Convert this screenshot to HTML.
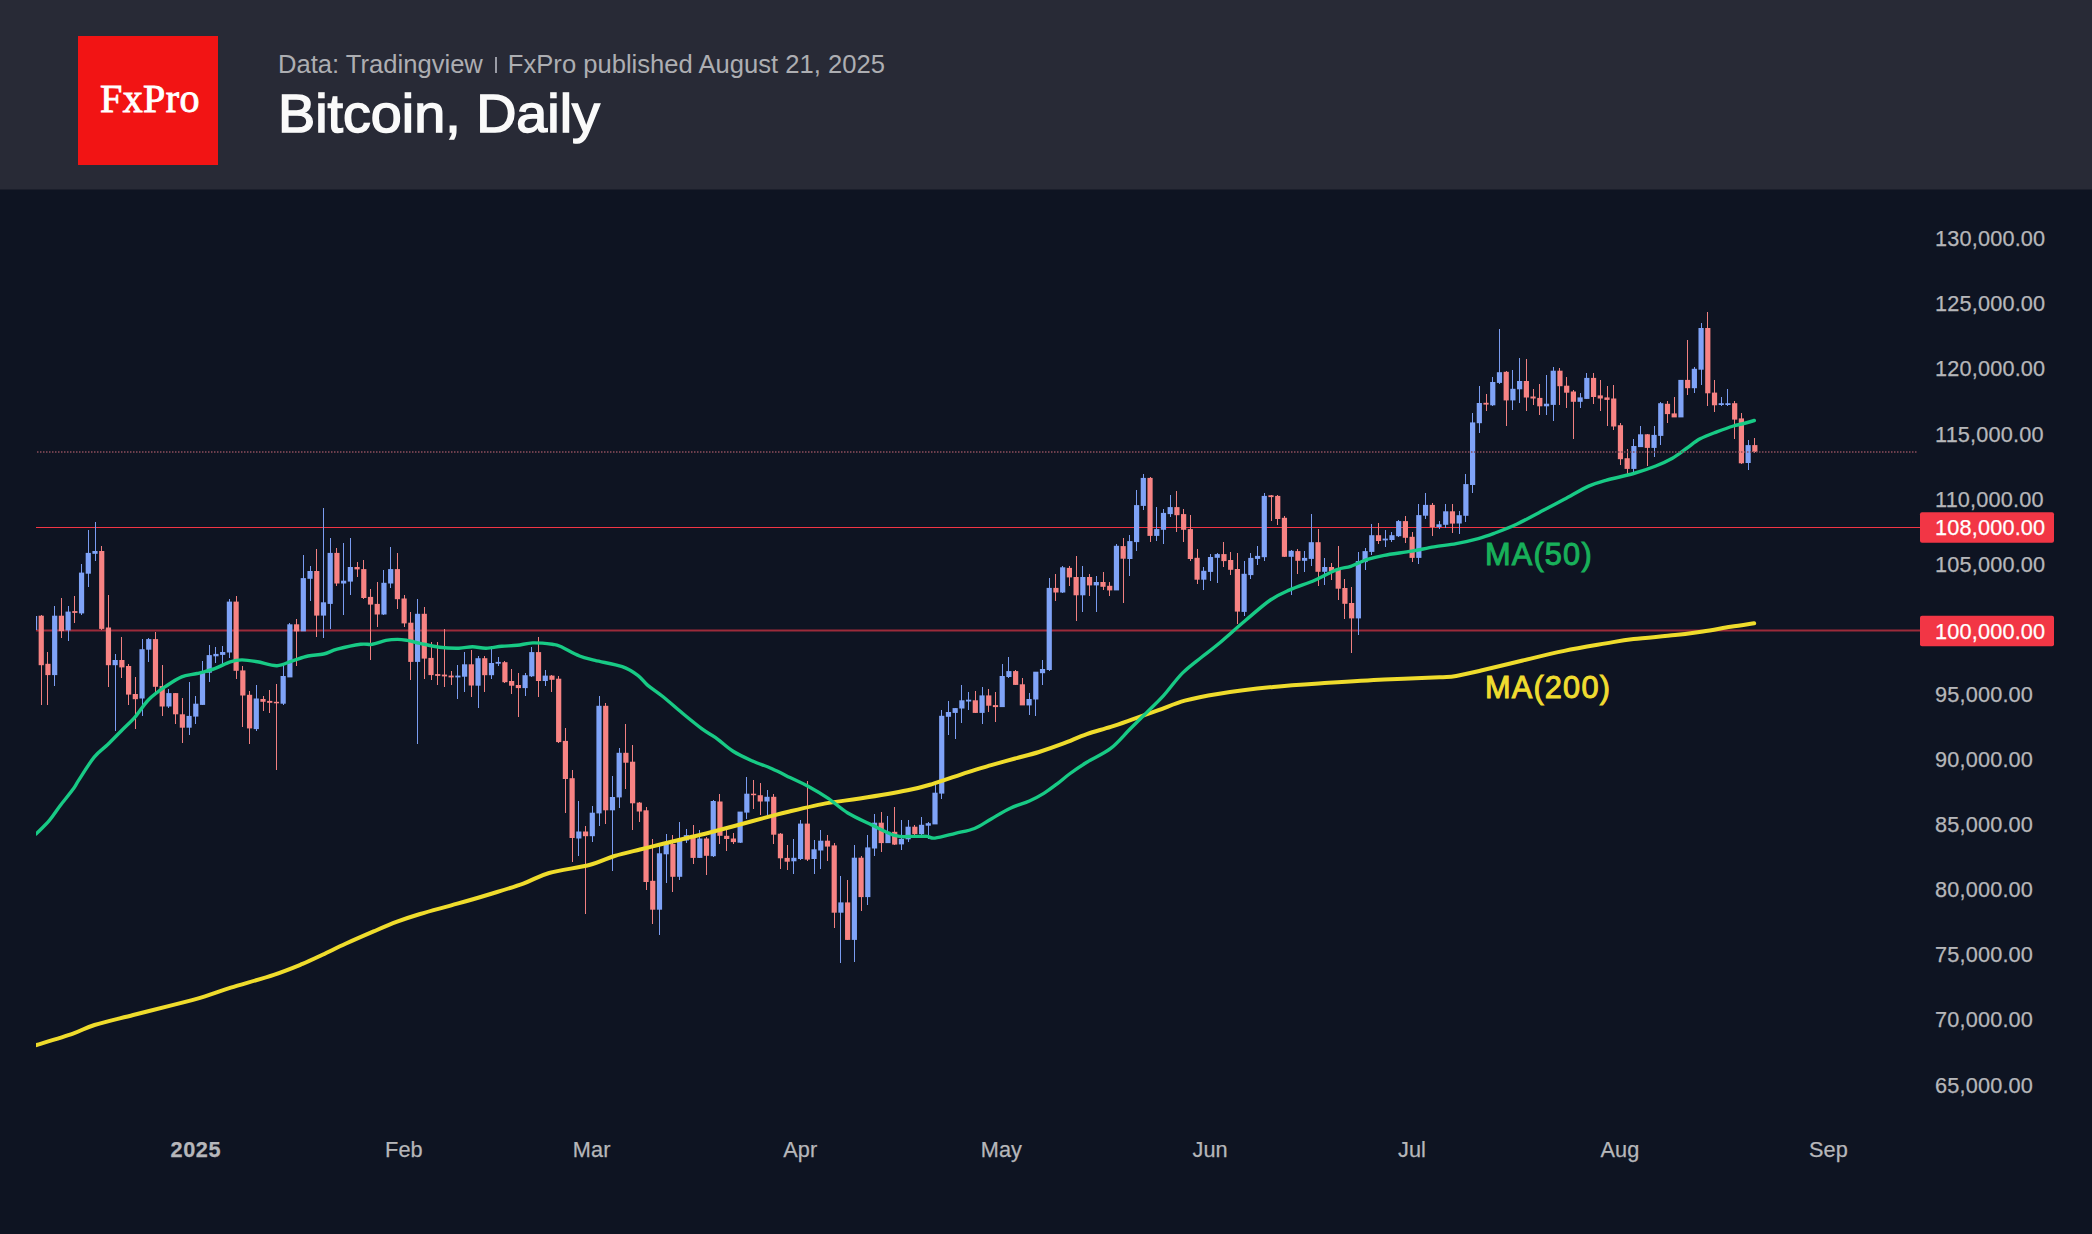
<!DOCTYPE html>
<html><head><meta charset="utf-8"><title>Bitcoin, Daily</title>
<style>
html,body{margin:0;padding:0;}
body{width:2092px;height:1234px;background:#0e1422;position:relative;overflow:hidden;font-family:"Liberation Sans",sans-serif;}
.hdr{position:absolute;left:0;top:0;width:2092px;height:189px;background:#282a36;border-bottom:1px solid #1b1e2b;}
.logo{position:absolute;left:78px;top:36px;width:140px;height:129px;background:#f21414;}
.logo span{position:absolute;left:22px;top:43px;font-family:"Liberation Serif",serif;font-weight:normal;-webkit-text-stroke:0.9px #fff;font-size:40px;line-height:1;color:#fff;letter-spacing:0.4px;white-space:nowrap;}
.sub{position:absolute;left:278px;top:52px;font-size:25.6px;line-height:1;color:#adaeb2;white-space:nowrap;}
.sep{display:inline-block;width:2px;height:16px;background:#9a9ca6;margin:0 11px 0 12px;vertical-align:0px;}
.ttl{position:absolute;left:278px;top:87px;font-size:54.5px;line-height:1;font-weight:normal;-webkit-text-stroke:1.5px #fafafa;color:#fafafa;white-space:nowrap;transform:scaleX(1.022);transform-origin:0 0;}
</style></head><body>
<div class="hdr">
<div class="logo"><span>FxPro</span></div>
<div class="sub">Data: Tradingview<span class="sep"></span>FxPro published August 21, 2025</div>
<div class="ttl">Bitcoin, Daily</div>
</div>
<svg width="2092" height="1234" viewBox="0 0 2092 1234" style="position:absolute;left:0;top:0"><defs><clipPath id="pc"><rect x="36" y="190" width="1884" height="940"/></clipPath></defs><line x1="36" y1="527.5" x2="1920" y2="527.5" stroke="#f23645" stroke-width="1.2"/><line x1="36" y1="630.5" x2="1920" y2="630.5" stroke="#9c2b3a" stroke-width="2"/><g clip-path="url(#pc)"><g fill="#7a9cf0" shape-rendering="crispEdges"><rect x="34.02" y="615.7" width="1" height="15.9"/><rect x="54.18" y="605.5" width="1" height="80.5"/><rect x="67.62" y="605.5" width="1" height="35.2"/><rect x="81.06" y="564.0" width="1" height="50.6"/><rect x="87.78" y="529.5" width="1" height="57.8"/><rect x="94.50" y="522.0" width="1" height="38.8"/><rect x="114.66" y="654.3" width="1" height="77.1"/><rect x="141.54" y="639.1" width="1" height="76.4"/><rect x="148.26" y="637.5" width="1" height="24.4"/><rect x="168.42" y="688.5" width="1" height="19.9"/><rect x="188.58" y="682.1" width="1" height="53.3"/><rect x="195.30" y="696.2" width="1" height="28.2"/><rect x="202.02" y="661.4" width="1" height="43.5"/><rect x="208.74" y="645.0" width="1" height="37.1"/><rect x="215.46" y="647.3" width="1" height="16.0"/><rect x="222.18" y="646.2" width="1" height="18.8"/><rect x="228.90" y="598.5" width="1" height="59.4"/><rect x="255.78" y="684.9" width="1" height="46.5"/><rect x="282.66" y="665.0" width="1" height="39.9"/><rect x="289.38" y="622.7" width="1" height="54.7"/><rect x="302.82" y="554.6" width="1" height="76.8"/><rect x="309.54" y="565.6" width="1" height="35.3"/><rect x="322.98" y="507.6" width="1" height="129.9"/><rect x="329.70" y="538.1" width="1" height="90.9"/><rect x="343.14" y="542.8" width="1" height="71.7"/><rect x="349.86" y="538.1" width="1" height="56.4"/><rect x="383.46" y="569.8" width="1" height="44.7"/><rect x="390.18" y="546.8" width="1" height="40.7"/><rect x="417.06" y="598.5" width="1" height="145.1"/><rect x="457.38" y="665.0" width="1" height="33.5"/><rect x="464.10" y="652.0" width="1" height="39.5"/><rect x="477.54" y="655.9" width="1" height="52.1"/><rect x="490.98" y="645.8" width="1" height="32.9"/><rect x="497.70" y="656.8" width="1" height="9.4"/><rect x="524.58" y="672.8" width="1" height="23.5"/><rect x="531.30" y="647.0" width="1" height="30.0"/><rect x="544.74" y="670.0" width="1" height="16.4"/><rect x="578.34" y="801.0" width="1" height="55.1"/><rect x="591.78" y="805.6" width="1" height="36.0"/><rect x="598.50" y="696.0" width="1" height="129.6"/><rect x="611.94" y="775.8" width="1" height="95.6"/><rect x="618.66" y="748.1" width="1" height="59.9"/><rect x="658.98" y="844.4" width="1" height="90.4"/><rect x="665.70" y="833.8" width="1" height="49.3"/><rect x="679.14" y="822.1" width="1" height="58.0"/><rect x="685.86" y="829.3" width="1" height="13.7"/><rect x="699.30" y="829.5" width="1" height="28.4"/><rect x="712.74" y="800.0" width="1" height="56.8"/><rect x="739.62" y="811.6" width="1" height="31.1"/><rect x="746.34" y="776.8" width="1" height="42.2"/><rect x="766.50" y="790.1" width="1" height="24.6"/><rect x="793.38" y="839.1" width="1" height="35.1"/><rect x="800.10" y="819.7" width="1" height="39.9"/><rect x="813.54" y="839.6" width="1" height="34.6"/><rect x="820.26" y="829.8" width="1" height="39.5"/><rect x="840.42" y="876.1" width="1" height="86.6"/><rect x="853.86" y="845.4" width="1" height="116.3"/><rect x="867.30" y="835.3" width="1" height="69.6"/><rect x="874.02" y="814.3" width="1" height="41.4"/><rect x="887.46" y="815.5" width="1" height="27.6"/><rect x="900.90" y="819.6" width="1" height="30.7"/><rect x="907.62" y="819.9" width="1" height="22.3"/><rect x="921.06" y="817.4" width="1" height="17.1"/><rect x="927.78" y="821.8" width="1" height="17.5"/><rect x="934.50" y="781.0" width="1" height="43.4"/><rect x="941.22" y="710.0" width="1" height="88.5"/><rect x="947.94" y="701.3" width="1" height="33.6"/><rect x="954.66" y="707.7" width="1" height="31.1"/><rect x="961.38" y="685.1" width="1" height="37.6"/><rect x="968.10" y="692.1" width="1" height="17.5"/><rect x="981.54" y="687.1" width="1" height="36.5"/><rect x="1001.70" y="664.3" width="1" height="42.8"/><rect x="1008.42" y="657.1" width="1" height="20.8"/><rect x="1028.58" y="692.7" width="1" height="21.9"/><rect x="1035.30" y="671.7" width="1" height="44.6"/><rect x="1042.02" y="659.9" width="1" height="24.8"/><rect x="1048.74" y="577.8" width="1" height="93.2"/><rect x="1062.18" y="565.8" width="1" height="27.4"/><rect x="1082.34" y="565.8" width="1" height="45.7"/><rect x="1095.78" y="575.7" width="1" height="36.4"/><rect x="1115.94" y="544.1" width="1" height="46.3"/><rect x="1129.38" y="535.1" width="1" height="40.6"/><rect x="1136.10" y="490.2" width="1" height="60.7"/><rect x="1142.82" y="474.3" width="1" height="35.7"/><rect x="1156.26" y="507.1" width="1" height="34.0"/><rect x="1162.98" y="509.2" width="1" height="34.5"/><rect x="1169.70" y="495.1" width="1" height="21.7"/><rect x="1203.30" y="566.7" width="1" height="23.1"/><rect x="1210.02" y="553.8" width="1" height="27.2"/><rect x="1216.74" y="553.0" width="1" height="30.0"/><rect x="1243.62" y="561.1" width="1" height="54.5"/><rect x="1250.34" y="553.0" width="1" height="25.6"/><rect x="1257.06" y="545.9" width="1" height="19.0"/><rect x="1263.78" y="492.7" width="1" height="68.1"/><rect x="1290.66" y="549.8" width="1" height="45.1"/><rect x="1304.10" y="550.8" width="1" height="21.0"/><rect x="1310.82" y="514.1" width="1" height="51.6"/><rect x="1324.26" y="557.9" width="1" height="26.9"/><rect x="1357.86" y="551.9" width="1" height="82.7"/><rect x="1364.58" y="547.8" width="1" height="21.9"/><rect x="1371.30" y="523.8" width="1" height="30.8"/><rect x="1384.74" y="530.0" width="1" height="17.0"/><rect x="1391.46" y="531.9" width="1" height="9.8"/><rect x="1398.18" y="520.3" width="1" height="16.5"/><rect x="1418.34" y="504.1" width="1" height="59.6"/><rect x="1425.06" y="493.0" width="1" height="25.6"/><rect x="1438.50" y="521.1" width="1" height="7.6"/><rect x="1445.22" y="504.1" width="1" height="24.3"/><rect x="1458.66" y="511.3" width="1" height="22.3"/><rect x="1465.38" y="474.3" width="1" height="47.3"/><rect x="1472.10" y="412.7" width="1" height="80.1"/><rect x="1478.82" y="385.8" width="1" height="46.7"/><rect x="1492.26" y="377.1" width="1" height="29.2"/><rect x="1498.98" y="329.1" width="1" height="54.4"/><rect x="1512.42" y="369.9" width="1" height="39.7"/><rect x="1519.14" y="357.6" width="1" height="45.4"/><rect x="1546.02" y="375.1" width="1" height="40.3"/><rect x="1552.74" y="366.8" width="1" height="53.7"/><rect x="1579.62" y="392.7" width="1" height="15.0"/><rect x="1586.34" y="372.7" width="1" height="26.2"/><rect x="1633.38" y="439.4" width="1" height="35.4"/><rect x="1640.10" y="426.1" width="1" height="21.0"/><rect x="1653.54" y="426.1" width="1" height="30.8"/><rect x="1660.26" y="401.8" width="1" height="43.4"/><rect x="1680.42" y="379.9" width="1" height="37.5"/><rect x="1693.86" y="367.4" width="1" height="25.9"/><rect x="1700.58" y="323.0" width="1" height="61.6"/><rect x="1720.74" y="396.5" width="1" height="9.9"/><rect x="1727.46" y="388.7" width="1" height="17.7"/><rect x="1747.62" y="440.3" width="1" height="29.6"/></g><g fill="#f08080" shape-rendering="crispEdges"><rect x="40.74" y="614.6" width="1" height="90.7"/><rect x="47.46" y="652.0" width="1" height="53.3"/><rect x="60.90" y="597.5" width="1" height="40.9"/><rect x="74.34" y="596.4" width="1" height="26.1"/><rect x="101.22" y="546.0" width="1" height="84.4"/><rect x="107.94" y="594.8" width="1" height="92.4"/><rect x="121.38" y="637.2" width="1" height="40.8"/><rect x="128.10" y="663.8" width="1" height="41.5"/><rect x="134.82" y="677.0" width="1" height="51.7"/><rect x="154.98" y="632.0" width="1" height="59.5"/><rect x="161.70" y="665.0" width="1" height="50.5"/><rect x="175.14" y="693.1" width="1" height="30.6"/><rect x="181.86" y="697.8" width="1" height="44.7"/><rect x="235.62" y="595.7" width="1" height="83.3"/><rect x="242.34" y="666.1" width="1" height="61.1"/><rect x="249.06" y="690.8" width="1" height="52.8"/><rect x="262.50" y="696.2" width="1" height="14.6"/><rect x="269.22" y="689.6" width="1" height="23.0"/><rect x="275.94" y="683.8" width="1" height="85.7"/><rect x="296.10" y="619.2" width="1" height="46.5"/><rect x="316.26" y="548.7" width="1" height="88.1"/><rect x="336.42" y="547.5" width="1" height="38.8"/><rect x="356.58" y="561.6" width="1" height="15.8"/><rect x="363.30" y="560.0" width="1" height="38.5"/><rect x="370.02" y="589.1" width="1" height="70.5"/><rect x="376.74" y="582.1" width="1" height="45.3"/><rect x="396.90" y="552.9" width="1" height="56.4"/><rect x="403.62" y="595.2" width="1" height="32.2"/><rect x="410.34" y="611.7" width="1" height="68.1"/><rect x="423.78" y="607.4" width="1" height="71.7"/><rect x="430.50" y="641.5" width="1" height="38.3"/><rect x="437.22" y="642.2" width="1" height="43.2"/><rect x="443.94" y="628.6" width="1" height="58.2"/><rect x="450.66" y="671.3" width="1" height="14.1"/><rect x="470.82" y="650.2" width="1" height="46.5"/><rect x="484.26" y="655.9" width="1" height="36.2"/><rect x="504.42" y="660.6" width="1" height="22.1"/><rect x="511.14" y="669.3" width="1" height="24.2"/><rect x="517.86" y="672.8" width="1" height="44.2"/><rect x="538.02" y="637.1" width="1" height="59.7"/><rect x="551.46" y="674.7" width="1" height="17.4"/><rect x="558.18" y="676.3" width="1" height="66.5"/><rect x="564.90" y="728.0" width="1" height="84.5"/><rect x="571.62" y="769.6" width="1" height="92.4"/><rect x="585.06" y="825.6" width="1" height="88.1"/><rect x="605.22" y="703.0" width="1" height="120.7"/><rect x="625.38" y="724.2" width="1" height="64.3"/><rect x="632.10" y="745.3" width="1" height="84.5"/><rect x="638.82" y="802.1" width="1" height="20.0"/><rect x="645.54" y="806.8" width="1" height="82.7"/><rect x="652.26" y="838.5" width="1" height="85.3"/><rect x="672.42" y="834.5" width="1" height="57.3"/><rect x="692.58" y="824.6" width="1" height="39.6"/><rect x="706.02" y="837.3" width="1" height="37.9"/><rect x="719.46" y="793.7" width="1" height="49.9"/><rect x="726.18" y="829.5" width="1" height="21.0"/><rect x="732.90" y="832.6" width="1" height="11.0"/><rect x="753.06" y="779.6" width="1" height="29.4"/><rect x="759.78" y="782.5" width="1" height="32.2"/><rect x="773.22" y="793.7" width="1" height="50.5"/><rect x="779.94" y="832.6" width="1" height="36.2"/><rect x="786.66" y="845.3" width="1" height="24.8"/><rect x="806.82" y="780.8" width="1" height="79.8"/><rect x="826.98" y="835.3" width="1" height="25.3"/><rect x="833.70" y="842.7" width="1" height="85.0"/><rect x="847.14" y="880.0" width="1" height="59.9"/><rect x="860.58" y="855.7" width="1" height="55.4"/><rect x="880.74" y="811.6" width="1" height="40.2"/><rect x="894.18" y="806.5" width="1" height="38.1"/><rect x="914.34" y="825.1" width="1" height="9.4"/><rect x="974.82" y="691.0" width="1" height="21.9"/><rect x="988.26" y="689.0" width="1" height="22.6"/><rect x="994.98" y="692.1" width="1" height="29.6"/><rect x="1015.14" y="669.8" width="1" height="15.4"/><rect x="1021.86" y="678.0" width="1" height="27.4"/><rect x="1055.46" y="573.6" width="1" height="26.9"/><rect x="1068.90" y="565.8" width="1" height="20.4"/><rect x="1075.62" y="555.9" width="1" height="64.6"/><rect x="1089.06" y="573.6" width="1" height="22.7"/><rect x="1102.50" y="572.1" width="1" height="17.5"/><rect x="1109.22" y="581.6" width="1" height="14.7"/><rect x="1122.66" y="538.1" width="1" height="64.4"/><rect x="1149.54" y="477.2" width="1" height="64.9"/><rect x="1176.42" y="491.3" width="1" height="40.6"/><rect x="1183.14" y="509.2" width="1" height="32.9"/><rect x="1189.86" y="514.9" width="1" height="46.2"/><rect x="1196.58" y="548.9" width="1" height="34.9"/><rect x="1223.46" y="542.1" width="1" height="25.0"/><rect x="1230.18" y="551.9" width="1" height="23.1"/><rect x="1236.90" y="553.0" width="1" height="71.2"/><rect x="1270.50" y="495.1" width="1" height="26.0"/><rect x="1277.22" y="495.1" width="1" height="30.0"/><rect x="1283.94" y="516.2" width="1" height="40.6"/><rect x="1297.38" y="549.1" width="1" height="24.7"/><rect x="1317.54" y="529.2" width="1" height="56.7"/><rect x="1330.98" y="562.8" width="1" height="17.2"/><rect x="1337.70" y="545.9" width="1" height="53.8"/><rect x="1344.42" y="579.0" width="1" height="39.9"/><rect x="1351.14" y="586.7" width="1" height="66.5"/><rect x="1378.02" y="522.7" width="1" height="21.1"/><rect x="1404.90" y="516.2" width="1" height="26.8"/><rect x="1411.62" y="531.9" width="1" height="30.2"/><rect x="1431.78" y="503.2" width="1" height="32.5"/><rect x="1451.94" y="504.1" width="1" height="28.4"/><rect x="1485.54" y="393.6" width="1" height="17.1"/><rect x="1505.70" y="371.3" width="1" height="54.4"/><rect x="1525.86" y="359.0" width="1" height="51.7"/><rect x="1532.58" y="389.3" width="1" height="15.6"/><rect x="1539.30" y="384.3" width="1" height="31.1"/><rect x="1559.46" y="368.3" width="1" height="36.6"/><rect x="1566.18" y="376.5" width="1" height="31.2"/><rect x="1572.90" y="389.6" width="1" height="49.2"/><rect x="1593.06" y="372.7" width="1" height="31.1"/><rect x="1599.78" y="379.8" width="1" height="30.8"/><rect x="1606.50" y="386.3" width="1" height="39.4"/><rect x="1613.22" y="384.9" width="1" height="44.7"/><rect x="1619.94" y="422.6" width="1" height="42.4"/><rect x="1626.66" y="448.5" width="1" height="26.3"/><rect x="1646.82" y="434.3" width="1" height="31.7"/><rect x="1666.98" y="400.5" width="1" height="22.7"/><rect x="1673.70" y="397.4" width="1" height="20.0"/><rect x="1687.14" y="340.1" width="1" height="54.7"/><rect x="1707.30" y="312.0" width="1" height="94.4"/><rect x="1714.02" y="379.9" width="1" height="31.6"/><rect x="1734.18" y="401.3" width="1" height="38.0"/><rect x="1740.90" y="412.6" width="1" height="51.4"/><rect x="1754.34" y="437.8" width="1" height="15.3"/></g><g fill="#7fa3f7"><rect x="31.92" y="616.0" width="5.2" height="14.0"/><rect x="52.08" y="615.7" width="5.2" height="59.4"/><rect x="65.52" y="611.6" width="5.2" height="18.8"/><rect x="78.96" y="572.6" width="5.2" height="40.8"/><rect x="85.68" y="552.9" width="5.2" height="20.8"/><rect x="92.40" y="551.0" width="5.2" height="2.8"/><rect x="112.56" y="660.0" width="5.2" height="5.2"/><rect x="139.44" y="649.2" width="5.2" height="49.3"/><rect x="146.16" y="639.1" width="5.2" height="10.6"/><rect x="166.32" y="693.1" width="5.2" height="13.4"/><rect x="186.48" y="715.9" width="5.2" height="11.8"/><rect x="193.20" y="703.7" width="5.2" height="12.9"/><rect x="199.92" y="672.0" width="5.2" height="32.9"/><rect x="206.64" y="655.1" width="5.2" height="17.6"/><rect x="213.36" y="653.9" width="5.2" height="2.4"/><rect x="220.08" y="652.0" width="5.2" height="2.9"/><rect x="226.80" y="601.6" width="5.2" height="50.9"/><rect x="253.68" y="698.5" width="5.2" height="30.6"/><rect x="280.56" y="676.0" width="5.2" height="27.7"/><rect x="287.28" y="624.3" width="5.2" height="53.1"/><rect x="300.72" y="578.1" width="5.2" height="53.3"/><rect x="307.44" y="571.0" width="5.2" height="7.8"/><rect x="320.88" y="602.3" width="5.2" height="13.3"/><rect x="327.60" y="552.9" width="5.2" height="51.0"/><rect x="341.04" y="580.7" width="5.2" height="2.8"/><rect x="347.76" y="567.0" width="5.2" height="14.6"/><rect x="381.36" y="582.8" width="5.2" height="31.7"/><rect x="388.08" y="569.1" width="5.2" height="14.4"/><rect x="414.96" y="613.8" width="5.2" height="48.1"/><rect x="455.28" y="675.6" width="5.2" height="1.8"/><rect x="462.00" y="664.3" width="5.2" height="12.4"/><rect x="475.44" y="658.2" width="5.2" height="27.5"/><rect x="488.88" y="663.0" width="5.2" height="12.2"/><rect x="495.60" y="661.9" width="5.2" height="1.8"/><rect x="522.48" y="675.2" width="5.2" height="12.9"/><rect x="529.20" y="652.1" width="5.2" height="24.2"/><rect x="542.64" y="675.6" width="5.2" height="5.4"/><rect x="576.24" y="831.5" width="5.2" height="7.0"/><rect x="589.68" y="812.7" width="5.2" height="23.5"/><rect x="596.40" y="705.8" width="5.2" height="107.6"/><rect x="609.84" y="797.0" width="5.2" height="13.3"/><rect x="616.56" y="752.8" width="5.2" height="44.6"/><rect x="656.88" y="853.3" width="5.2" height="56.4"/><rect x="663.60" y="843.9" width="5.2" height="10.4"/><rect x="677.04" y="840.2" width="5.2" height="36.6"/><rect x="683.76" y="835.1" width="5.2" height="5.4"/><rect x="697.20" y="838.5" width="5.2" height="19.4"/><rect x="710.64" y="801.0" width="5.2" height="55.2"/><rect x="737.52" y="811.6" width="5.2" height="31.1"/><rect x="744.24" y="793.7" width="5.2" height="18.9"/><rect x="764.40" y="796.8" width="5.2" height="4.7"/><rect x="791.28" y="857.8" width="5.2" height="3.5"/><rect x="798.00" y="823.6" width="5.2" height="35.4"/><rect x="811.44" y="849.3" width="5.2" height="9.7"/><rect x="818.16" y="840.7" width="5.2" height="9.8"/><rect x="838.32" y="902.4" width="5.2" height="10.3"/><rect x="851.76" y="857.7" width="5.2" height="82.2"/><rect x="865.20" y="847.4" width="5.2" height="49.7"/><rect x="871.92" y="822.7" width="5.2" height="25.8"/><rect x="885.36" y="831.8" width="5.2" height="11.3"/><rect x="898.80" y="838.8" width="5.2" height="5.6"/><rect x="905.52" y="826.7" width="5.2" height="12.6"/><rect x="918.96" y="824.8" width="5.2" height="9.3"/><rect x="925.68" y="823.2" width="5.2" height="2.5"/><rect x="932.40" y="792.7" width="5.2" height="31.7"/><rect x="939.12" y="715.8" width="5.2" height="77.8"/><rect x="945.84" y="712.0" width="5.2" height="4.8"/><rect x="952.56" y="708.1" width="5.2" height="4.8"/><rect x="959.28" y="700.3" width="5.2" height="8.2"/><rect x="966.00" y="699.7" width="5.2" height="1.8"/><rect x="979.44" y="695.4" width="5.2" height="17.5"/><rect x="999.60" y="676.0" width="5.2" height="31.1"/><rect x="1006.32" y="671.1" width="5.2" height="5.9"/><rect x="1026.48" y="699.0" width="5.2" height="6.4"/><rect x="1033.20" y="671.7" width="5.2" height="27.8"/><rect x="1039.92" y="669.0" width="5.2" height="4.2"/><rect x="1046.64" y="587.9" width="5.2" height="82.1"/><rect x="1060.08" y="567.3" width="5.2" height="25.2"/><rect x="1080.24" y="577.0" width="5.2" height="18.3"/><rect x="1093.68" y="582.0" width="5.2" height="3.4"/><rect x="1113.84" y="545.8" width="5.2" height="44.6"/><rect x="1127.28" y="541.1" width="5.2" height="17.9"/><rect x="1134.00" y="505.1" width="5.2" height="37.0"/><rect x="1140.72" y="477.9" width="5.2" height="28.0"/><rect x="1154.16" y="529.1" width="5.2" height="6.8"/><rect x="1160.88" y="512.9" width="5.2" height="16.9"/><rect x="1167.60" y="507.1" width="5.2" height="7.0"/><rect x="1201.20" y="570.8" width="5.2" height="8.9"/><rect x="1207.92" y="557.0" width="5.2" height="14.9"/><rect x="1214.64" y="554.1" width="5.2" height="3.7"/><rect x="1241.52" y="573.8" width="5.2" height="38.1"/><rect x="1248.24" y="557.9" width="5.2" height="17.2"/><rect x="1254.96" y="555.9" width="5.2" height="3.0"/><rect x="1261.68" y="495.9" width="5.2" height="61.3"/><rect x="1288.56" y="550.8" width="5.2" height="6.0"/><rect x="1302.00" y="557.9" width="5.2" height="2.9"/><rect x="1308.72" y="542.2" width="5.2" height="16.7"/><rect x="1322.16" y="567.0" width="5.2" height="4.8"/><rect x="1355.76" y="561.1" width="5.2" height="57.3"/><rect x="1362.48" y="551.1" width="5.2" height="11.0"/><rect x="1369.20" y="535.2" width="5.2" height="16.7"/><rect x="1382.64" y="538.6" width="5.2" height="1.8"/><rect x="1389.36" y="535.2" width="5.2" height="4.8"/><rect x="1396.08" y="521.1" width="5.2" height="15.1"/><rect x="1416.24" y="515.1" width="5.2" height="42.8"/><rect x="1422.96" y="504.9" width="5.2" height="10.8"/><rect x="1436.40" y="524.3" width="5.2" height="2.8"/><rect x="1443.12" y="511.3" width="5.2" height="13.5"/><rect x="1456.56" y="515.2" width="5.2" height="8.3"/><rect x="1463.28" y="484.1" width="5.2" height="31.7"/><rect x="1470.00" y="422.4" width="5.2" height="62.6"/><rect x="1476.72" y="403.0" width="5.2" height="20.2"/><rect x="1490.16" y="382.0" width="5.2" height="23.3"/><rect x="1496.88" y="372.2" width="5.2" height="10.7"/><rect x="1510.32" y="388.8" width="5.2" height="11.6"/><rect x="1517.04" y="381.0" width="5.2" height="8.3"/><rect x="1543.92" y="403.7" width="5.2" height="2.6"/><rect x="1550.64" y="370.7" width="5.2" height="34.2"/><rect x="1577.52" y="397.4" width="5.2" height="4.4"/><rect x="1584.24" y="377.9" width="5.2" height="21.0"/><rect x="1631.28" y="446.0" width="5.2" height="22.9"/><rect x="1638.00" y="434.3" width="5.2" height="12.8"/><rect x="1651.44" y="434.9" width="5.2" height="13.0"/><rect x="1658.16" y="403.2" width="5.2" height="32.7"/><rect x="1678.32" y="379.9" width="5.2" height="37.5"/><rect x="1691.76" y="368.8" width="5.2" height="19.4"/><rect x="1698.48" y="328.0" width="5.2" height="41.7"/><rect x="1718.64" y="403.2" width="5.2" height="1.8"/><rect x="1725.36" y="403.2" width="5.2" height="1.8"/><rect x="1745.52" y="445.1" width="5.2" height="17.9"/></g><g fill="#f78383"><rect x="38.64" y="615.7" width="5.2" height="49.5"/><rect x="45.36" y="663.8" width="5.2" height="11.3"/><rect x="58.80" y="615.7" width="5.2" height="15.4"/><rect x="72.24" y="611.1" width="5.2" height="1.8"/><rect x="99.12" y="551.0" width="5.2" height="77.9"/><rect x="105.84" y="627.5" width="5.2" height="37.7"/><rect x="119.28" y="660.0" width="5.2" height="7.4"/><rect x="126.00" y="666.0" width="5.2" height="28.6"/><rect x="132.72" y="694.0" width="5.2" height="5.2"/><rect x="152.88" y="639.1" width="5.2" height="47.7"/><rect x="159.60" y="686.1" width="5.2" height="20.4"/><rect x="173.04" y="693.1" width="5.2" height="21.2"/><rect x="179.76" y="714.3" width="5.2" height="13.4"/><rect x="233.52" y="601.6" width="5.2" height="69.2"/><rect x="240.24" y="670.4" width="5.2" height="25.1"/><rect x="246.96" y="694.8" width="5.2" height="33.6"/><rect x="260.40" y="699.0" width="5.2" height="2.8"/><rect x="267.12" y="700.9" width="5.2" height="1.9"/><rect x="273.84" y="701.8" width="5.2" height="1.5"/><rect x="294.00" y="624.3" width="5.2" height="7.1"/><rect x="314.16" y="571.0" width="5.2" height="44.6"/><rect x="334.32" y="552.9" width="5.2" height="30.6"/><rect x="354.48" y="567.0" width="5.2" height="2.4"/><rect x="361.20" y="569.1" width="5.2" height="28.9"/><rect x="367.92" y="596.9" width="5.2" height="7.7"/><rect x="374.64" y="603.9" width="5.2" height="10.6"/><rect x="394.80" y="569.1" width="5.2" height="30.1"/><rect x="401.52" y="598.5" width="5.2" height="24.9"/><rect x="408.24" y="622.7" width="5.2" height="39.2"/><rect x="421.68" y="613.8" width="5.2" height="44.8"/><rect x="428.40" y="657.9" width="5.2" height="17.2"/><rect x="435.12" y="674.1" width="5.2" height="1.8"/><rect x="441.84" y="674.6" width="5.2" height="1.8"/><rect x="448.56" y="675.6" width="5.2" height="1.8"/><rect x="468.72" y="664.3" width="5.2" height="21.2"/><rect x="482.16" y="658.2" width="5.2" height="17.0"/><rect x="502.32" y="662.2" width="5.2" height="20.0"/><rect x="509.04" y="681.0" width="5.2" height="4.7"/><rect x="515.76" y="685.0" width="5.2" height="3.1"/><rect x="535.92" y="652.1" width="5.2" height="28.9"/><rect x="549.36" y="675.6" width="5.2" height="4.2"/><rect x="556.08" y="678.7" width="5.2" height="63.4"/><rect x="562.80" y="740.9" width="5.2" height="38.1"/><rect x="569.52" y="778.2" width="5.2" height="59.8"/><rect x="582.96" y="831.5" width="5.2" height="4.7"/><rect x="603.12" y="705.8" width="5.2" height="104.5"/><rect x="623.28" y="752.8" width="5.2" height="9.9"/><rect x="630.00" y="761.7" width="5.2" height="41.6"/><rect x="636.72" y="802.6" width="5.2" height="8.9"/><rect x="643.44" y="810.3" width="5.2" height="71.7"/><rect x="650.16" y="880.8" width="5.2" height="28.9"/><rect x="670.32" y="843.9" width="5.2" height="32.9"/><rect x="690.48" y="835.2" width="5.2" height="22.7"/><rect x="703.92" y="838.5" width="5.2" height="17.3"/><rect x="717.36" y="801.5" width="5.2" height="34.3"/><rect x="724.08" y="835.8" width="5.2" height="3.2"/><rect x="730.80" y="838.5" width="5.2" height="3.6"/><rect x="750.96" y="793.7" width="5.2" height="1.5"/><rect x="757.68" y="795.2" width="5.2" height="6.3"/><rect x="771.12" y="796.8" width="5.2" height="37.9"/><rect x="777.84" y="833.7" width="5.2" height="24.6"/><rect x="784.56" y="857.9" width="5.2" height="3.8"/><rect x="804.72" y="823.6" width="5.2" height="36.0"/><rect x="824.88" y="840.7" width="5.2" height="5.9"/><rect x="831.60" y="845.4" width="5.2" height="67.3"/><rect x="845.04" y="902.4" width="5.2" height="37.5"/><rect x="858.48" y="857.7" width="5.2" height="39.4"/><rect x="878.64" y="822.7" width="5.2" height="20.4"/><rect x="892.08" y="831.8" width="5.2" height="12.8"/><rect x="912.24" y="826.7" width="5.2" height="7.4"/><rect x="972.72" y="700.3" width="5.2" height="12.6"/><rect x="986.16" y="695.4" width="5.2" height="10.3"/><rect x="992.88" y="705.1" width="5.2" height="2.0"/><rect x="1013.04" y="671.1" width="5.2" height="13.8"/><rect x="1019.76" y="684.3" width="5.2" height="21.1"/><rect x="1053.36" y="587.9" width="5.2" height="4.6"/><rect x="1066.80" y="567.9" width="5.2" height="9.5"/><rect x="1073.52" y="577.0" width="5.2" height="18.3"/><rect x="1086.96" y="577.0" width="5.2" height="8.4"/><rect x="1100.40" y="582.0" width="5.2" height="4.8"/><rect x="1107.12" y="585.8" width="5.2" height="4.6"/><rect x="1120.56" y="546.1" width="5.2" height="12.6"/><rect x="1147.44" y="477.9" width="5.2" height="58.0"/><rect x="1174.32" y="507.1" width="5.2" height="8.1"/><rect x="1181.04" y="514.1" width="5.2" height="15.7"/><rect x="1187.76" y="529.1" width="5.2" height="29.9"/><rect x="1194.48" y="557.8" width="5.2" height="21.9"/><rect x="1221.36" y="554.1" width="5.2" height="7.0"/><rect x="1228.08" y="560.0" width="5.2" height="9.8"/><rect x="1234.80" y="569.0" width="5.2" height="42.6"/><rect x="1268.40" y="495.3" width="5.2" height="1.8"/><rect x="1275.12" y="495.9" width="5.2" height="23.1"/><rect x="1281.84" y="517.8" width="5.2" height="39.0"/><rect x="1295.28" y="551.1" width="5.2" height="9.7"/><rect x="1315.44" y="542.2" width="5.2" height="29.6"/><rect x="1328.88" y="567.0" width="5.2" height="4.3"/><rect x="1335.60" y="569.7" width="5.2" height="19.0"/><rect x="1342.32" y="588.0" width="5.2" height="15.8"/><rect x="1349.04" y="603.0" width="5.2" height="15.4"/><rect x="1375.92" y="535.2" width="5.2" height="5.8"/><rect x="1402.80" y="521.1" width="5.2" height="16.7"/><rect x="1409.52" y="536.8" width="5.2" height="21.1"/><rect x="1429.68" y="504.9" width="5.2" height="22.2"/><rect x="1449.84" y="511.3" width="5.2" height="12.3"/><rect x="1483.44" y="402.8" width="5.2" height="1.8"/><rect x="1503.60" y="371.8" width="5.2" height="28.6"/><rect x="1523.76" y="381.0" width="5.2" height="16.5"/><rect x="1530.48" y="396.5" width="5.2" height="2.0"/><rect x="1537.20" y="397.9" width="5.2" height="8.4"/><rect x="1557.36" y="370.7" width="5.2" height="15.5"/><rect x="1564.08" y="385.7" width="5.2" height="7.0"/><rect x="1570.80" y="391.5" width="5.2" height="10.3"/><rect x="1590.96" y="377.9" width="5.2" height="19.1"/><rect x="1597.68" y="395.4" width="5.2" height="3.1"/><rect x="1604.40" y="397.4" width="5.2" height="2.5"/><rect x="1611.12" y="398.5" width="5.2" height="28.0"/><rect x="1617.84" y="425.2" width="5.2" height="34.0"/><rect x="1624.56" y="458.2" width="5.2" height="10.7"/><rect x="1644.72" y="434.3" width="5.2" height="13.6"/><rect x="1664.88" y="403.8" width="5.2" height="10.3"/><rect x="1671.60" y="413.4" width="5.2" height="4.0"/><rect x="1685.04" y="379.9" width="5.2" height="8.3"/><rect x="1705.20" y="328.0" width="5.2" height="65.3"/><rect x="1711.92" y="392.6" width="5.2" height="12.7"/><rect x="1732.08" y="403.2" width="5.2" height="16.4"/><rect x="1738.80" y="418.4" width="5.2" height="44.9"/><rect x="1752.24" y="445.1" width="5.2" height="6.8"/></g></g><g clip-path="url(#pc)"><path d="M36.3,1045.1 C42.4,1043.2 63.3,1036.9 73.0,1033.6 C82.7,1030.2 84.5,1028.1 94.5,1025.0 C104.5,1021.9 120.0,1018.4 133.2,1015.0 C146.3,1011.6 161.4,1008.0 173.4,1004.9 C185.4,1001.8 195.4,999.2 205.0,996.3 C214.6,993.4 219.3,991.3 230.8,987.7 C242.3,984.1 261.9,978.8 273.8,974.8 C285.8,970.8 294.4,967.2 302.5,963.9 C310.6,960.5 315.3,958.1 322.5,954.7 C329.7,951.4 336.9,947.7 345.5,943.8 C354.1,939.9 365.6,934.9 374.2,931.2 C382.8,927.5 389.5,924.6 397.1,921.7 C404.8,918.8 410.1,917.0 420.1,914.0 C430.1,911.0 445.8,907.0 457.3,903.7 C468.8,900.5 477.9,897.9 488.9,894.5 C499.9,891.1 513.3,887.2 523.3,883.6 C533.3,880.0 538.1,876.1 549.1,873.0 C560.1,869.9 578.4,867.8 589.3,865.0 C600.2,862.2 606.0,858.6 614.5,856.0 C623.0,853.4 631.9,851.5 640.0,849.5 C648.1,847.5 654.4,845.9 663.1,843.8 C671.8,841.7 684.1,838.8 692.2,836.8 C700.3,834.8 703.6,834.1 711.7,832.0 C719.8,829.9 731.2,826.8 740.9,824.2 C750.6,821.6 761.9,818.5 770.0,816.4 C778.1,814.3 779.7,813.8 789.5,811.5 C799.3,809.2 817.0,805.0 828.7,802.9 C840.4,800.8 846.6,800.7 859.8,798.6 C872.9,796.5 895.6,792.7 907.6,790.3 C919.6,787.9 921.5,787.3 931.5,784.3 C941.5,781.3 957.3,775.5 967.3,772.3 C977.2,769.1 983.2,767.5 991.2,765.2 C999.2,762.9 1007.1,760.7 1015.1,758.5 C1023.1,756.3 1031.0,754.5 1039.0,752.0 C1047.0,749.5 1054.9,746.7 1062.9,743.7 C1070.9,740.7 1078.8,736.9 1086.8,734.1 C1094.8,731.3 1102.7,729.5 1110.7,726.9 C1118.7,724.3 1126.6,721.4 1134.6,718.6 C1142.6,715.8 1150.1,713.2 1158.5,710.2 C1166.9,707.2 1174.9,703.3 1184.8,700.6 C1194.7,697.9 1203.0,696.2 1217.7,693.9 C1232.4,691.6 1254.7,688.8 1273.2,686.9 C1291.7,685.0 1310.1,684.0 1328.6,682.8 C1347.1,681.6 1365.6,680.4 1384.1,679.5 C1402.6,678.6 1427.5,677.8 1439.5,677.2 C1451.5,676.6 1449.3,677.0 1456.2,675.9 C1463.1,674.8 1470.0,673.1 1481.1,670.5 C1492.2,667.9 1508.8,663.8 1522.7,660.5 C1536.6,657.2 1550.4,653.8 1564.3,650.9 C1578.2,648.0 1594.4,645.4 1605.9,643.4 C1617.5,641.4 1622.0,640.4 1633.6,639.0 C1645.1,637.6 1663.7,636.4 1675.2,635.1 C1686.8,633.9 1693.7,632.9 1702.9,631.5 C1712.1,630.1 1722.0,628.2 1730.6,626.8 C1739.1,625.4 1750.3,623.8 1754.2,623.2" fill="none" stroke="#efdc2c" stroke-width="4" stroke-linejoin="round" stroke-linecap="round"/><path d="M36.2,833.9 C38.4,831.6 45.4,825.0 49.4,820.3 C53.4,815.6 56.0,811.1 60.1,805.7 C64.2,800.4 70.7,792.4 73.8,788.2 C76.9,784.0 75.2,785.6 78.6,780.4 C82.0,775.2 89.3,763.1 94.2,757.1 C99.1,751.1 103.3,748.9 107.8,744.5 C112.3,740.1 116.9,735.3 121.4,730.8 C125.9,726.2 130.5,722.4 135.0,717.2 C139.5,712.0 143.4,704.9 148.6,699.7 C153.8,694.5 160.6,689.9 166.1,686.1 C171.6,682.3 176.5,678.9 181.7,676.8 C186.9,674.7 191.7,674.9 197.2,673.5 C202.7,672.1 209.2,670.6 214.7,668.6 C220.2,666.6 225.8,663.2 230.3,661.8 C234.9,660.3 237.5,659.9 242.0,659.9 C246.5,659.9 251.7,660.8 257.5,661.8 C263.3,662.8 271.2,665.9 277.0,665.7 C282.8,665.5 287.3,662.4 292.5,660.8 C297.7,659.2 302.9,657.1 308.1,656.0 C313.3,654.9 318.8,655.1 323.6,654.0 C328.5,652.9 331.0,650.8 337.2,649.2 C343.4,647.6 354.8,645.1 360.6,644.3 C366.4,643.5 368.0,644.9 372.2,644.3 C376.4,643.6 381.7,641.2 385.9,640.4 C390.1,639.6 393.9,639.4 397.5,639.4 C401.1,639.4 403.4,639.8 407.2,640.4 C410.9,641.0 414.6,642.2 420.0,643.3 C425.4,644.4 432.9,646.4 439.4,647.2 C445.9,648.0 453.4,648.3 458.9,648.2 C464.4,648.1 468.0,646.8 472.5,646.8 C477.0,646.8 481.2,648.3 486.1,648.2 C491.0,648.1 496.5,646.8 501.7,646.3 C506.9,645.8 512.0,645.9 517.2,645.3 C522.4,644.7 527.0,643.1 532.8,642.9 C538.6,642.7 547.7,643.7 552.2,644.3 C556.7,644.9 555.5,644.3 560.0,646.3 C564.5,648.2 573.7,653.6 579.5,656.0 C585.3,658.4 587.9,658.6 595.0,660.4 C602.1,662.2 615.1,664.2 622.2,666.7 C629.3,669.2 633.6,672.3 637.8,675.4 C642.0,678.5 643.3,681.5 647.5,685.1 C651.7,688.7 657.3,692.1 663.1,696.8 C668.9,701.5 676.0,707.9 682.5,713.3 C689.0,718.6 696.5,724.8 702.0,728.9 C707.5,733.0 710.4,733.9 715.6,737.6 C720.8,741.3 727.0,747.4 733.1,751.3 C739.2,755.2 746.0,758.1 752.5,761.0 C759.0,763.9 765.8,766.0 772.0,768.8 C778.2,771.5 784.1,774.6 790.0,777.5 C795.9,780.4 801.2,782.5 807.6,786.0 C814.0,789.5 821.5,793.9 828.2,798.4 C834.9,802.9 840.5,808.6 847.8,813.0 C855.0,817.4 863.7,821.1 871.7,824.9 C879.7,828.7 888.8,833.8 895.6,835.7 C902.4,837.6 907.1,836.3 912.3,836.4 C917.5,836.5 922.9,836.1 926.7,836.4 C930.5,836.7 930.2,838.6 935.0,838.1 C939.8,837.6 948.8,834.9 955.4,833.3 C962.0,831.7 968.5,830.9 974.5,828.5 C980.5,826.1 985.2,822.3 991.2,818.9 C997.2,815.5 1003.9,811.2 1010.3,808.2 C1016.7,805.2 1023.8,803.5 1029.4,801.0 C1035.0,798.5 1039.0,796.4 1043.8,793.4 C1048.6,790.4 1053.7,786.4 1058.1,783.1 C1062.5,779.8 1065.3,777.0 1070.1,773.5 C1074.9,770.0 1080.0,766.5 1086.8,762.3 C1093.6,758.1 1103.5,753.9 1110.7,748.4 C1117.9,742.9 1123.8,735.3 1129.8,729.3 C1135.8,723.3 1141.0,718.2 1146.6,712.6 C1152.2,707.0 1157.3,702.5 1163.3,695.9 C1169.3,689.3 1176.0,679.5 1182.4,673.1 C1188.8,666.7 1195.6,662.0 1201.5,657.2 C1207.4,652.4 1210.4,650.6 1217.7,644.5 C1225.0,638.4 1236.6,627.9 1245.4,620.5 C1254.2,613.1 1263.0,605.1 1270.4,600.0 C1277.8,594.9 1282.4,593.2 1289.8,589.9 C1297.2,586.6 1306.9,583.6 1314.8,580.2 C1322.7,576.8 1330.9,572.0 1336.9,569.7 C1342.9,567.4 1345.7,568.0 1350.8,566.3 C1355.9,564.6 1361.9,561.2 1367.4,559.4 C1373.0,557.6 1376.7,556.7 1384.1,555.3 C1391.5,553.9 1403.5,552.5 1411.8,551.1 C1420.1,549.7 1426.6,548.1 1434.0,546.9 C1441.4,545.6 1448.8,545.0 1456.2,543.6 C1463.6,542.2 1471.8,540.4 1478.3,538.6 C1484.8,536.8 1488.5,535.4 1495.0,533.0 C1501.5,530.6 1508.8,527.9 1517.1,524.0 C1525.4,520.1 1537.0,513.6 1544.9,509.5 C1552.8,505.4 1556.9,503.2 1564.3,499.3 C1571.7,495.4 1582.3,489.0 1589.2,485.9 C1596.1,482.8 1598.5,482.5 1605.9,480.4 C1613.3,478.3 1625.3,475.9 1633.6,473.5 C1641.9,471.1 1649.3,468.6 1655.8,466.0 C1662.3,463.4 1667.3,461.1 1672.4,458.2 C1677.5,455.3 1681.7,451.7 1686.3,448.5 C1690.9,445.3 1695.0,441.6 1700.1,438.8 C1705.2,436.0 1711.2,434.0 1716.8,431.9 C1722.3,429.8 1729.2,427.3 1733.4,426.0 C1737.6,424.7 1738.2,424.9 1741.7,424.0 C1745.2,423.1 1752.2,421.1 1754.3,420.5" fill="none" stroke="#18ca85" stroke-width="3.4" stroke-linejoin="round" stroke-linecap="round"/></g><line x1="37" y1="452" x2="1918" y2="452" stroke="#8c4d5c" stroke-width="1.3" stroke-dasharray="1.5 1.5"/><g font-family="Liberation Sans, sans-serif" font-size="21.7" letter-spacing="0.18" fill="#b6b7ba" stroke="#b6b7ba" stroke-width="0.25"><text x="1935" y="246.2">130,000.00</text><text x="1935" y="311.3">125,000.00</text><text x="1935" y="376.4">120,000.00</text><text x="1935" y="441.5">115,000.00</text><text x="1935" y="506.6">110,000.00</text><text x="1935" y="571.7">105,000.00</text><text x="1935" y="636.8">100,000.00</text><text x="1935" y="701.9">95,000.00</text><text x="1935" y="767.0">90,000.00</text><text x="1935" y="832.1">85,000.00</text><text x="1935" y="897.2">80,000.00</text><text x="1935" y="962.3">75,000.00</text><text x="1935" y="1027.4">70,000.00</text><text x="1935" y="1092.5">65,000.00</text></g><rect x="1920" y="512.2" width="134" height="30.6" rx="2" fill="#f23645"/><text x="1935" y="535.4" font-family="Liberation Sans, sans-serif" font-size="21.7" letter-spacing="0.18" fill="#ffffff" stroke="#ffffff" stroke-width="0.25">108,000.00</text><rect x="1920" y="615.7" width="134" height="30.6" rx="2" fill="#f23645"/><text x="1935" y="638.9" font-family="Liberation Sans, sans-serif" font-size="21.7" letter-spacing="0.18" fill="#ffffff" stroke="#ffffff" stroke-width="0.25">100,000.00</text><text x="195.8" y="1157" text-anchor="middle" font-family="Liberation Sans, sans-serif" font-size="21.7" font-weight="bold" letter-spacing="0.6" fill="#b6b7ba" stroke="#b6b7ba" stroke-width="0.25">2025</text><text x="403.9" y="1157" text-anchor="middle" font-family="Liberation Sans, sans-serif" font-size="21.7" letter-spacing="0.1" fill="#b6b7ba" stroke="#b6b7ba" stroke-width="0.25">Feb</text><text x="591.7" y="1157" text-anchor="middle" font-family="Liberation Sans, sans-serif" font-size="21.7" letter-spacing="0.1" fill="#b6b7ba" stroke="#b6b7ba" stroke-width="0.25">Mar</text><text x="800.3" y="1157" text-anchor="middle" font-family="Liberation Sans, sans-serif" font-size="21.7" letter-spacing="0.1" fill="#b6b7ba" stroke="#b6b7ba" stroke-width="0.25">Apr</text><text x="1001.4" y="1157" text-anchor="middle" font-family="Liberation Sans, sans-serif" font-size="21.7" letter-spacing="0.1" fill="#b6b7ba" stroke="#b6b7ba" stroke-width="0.25">May</text><text x="1210.1" y="1157" text-anchor="middle" font-family="Liberation Sans, sans-serif" font-size="21.7" letter-spacing="0.1" fill="#b6b7ba" stroke="#b6b7ba" stroke-width="0.25">Jun</text><text x="1412.0" y="1157" text-anchor="middle" font-family="Liberation Sans, sans-serif" font-size="21.7" letter-spacing="0.1" fill="#b6b7ba" stroke="#b6b7ba" stroke-width="0.25">Jul</text><text x="1620.0" y="1157" text-anchor="middle" font-family="Liberation Sans, sans-serif" font-size="21.7" letter-spacing="0.1" fill="#b6b7ba" stroke="#b6b7ba" stroke-width="0.25">Aug</text><text x="1828.5" y="1157" text-anchor="middle" font-family="Liberation Sans, sans-serif" font-size="21.7" letter-spacing="0.1" fill="#b6b7ba" stroke="#b6b7ba" stroke-width="0.25">Sep</text><text x="1485" y="565.2" font-family="Liberation Sans, sans-serif" font-size="30.7" letter-spacing="1.2" stroke="#18b05a" stroke-width="1.0" fill="#18b05a">MA(50)</text><text x="1485" y="697.6" font-family="Liberation Sans, sans-serif" font-size="30.7" letter-spacing="1.2" stroke="#f0dc30" stroke-width="1.0" fill="#f0dc30">MA(200)</text></svg>
</body></html>
